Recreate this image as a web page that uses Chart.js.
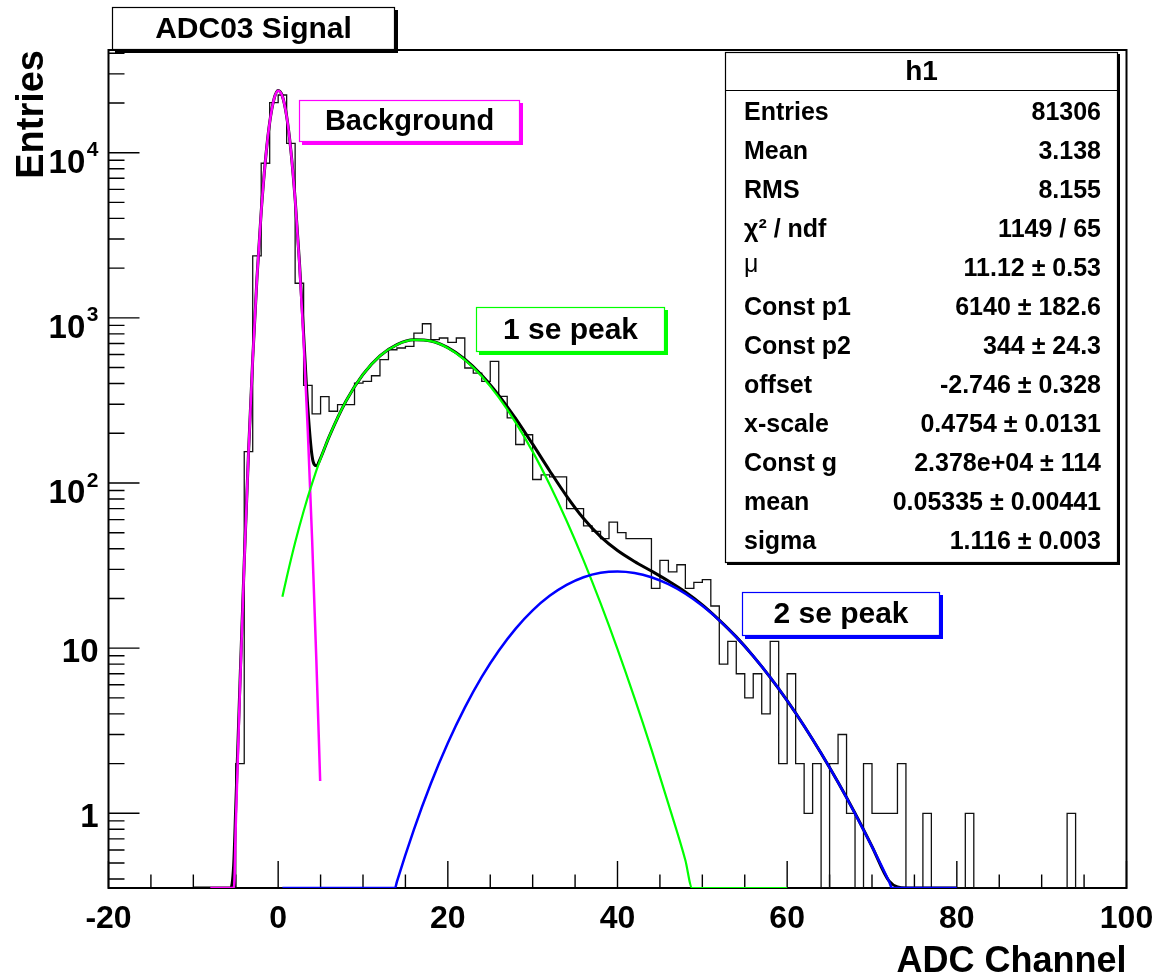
<!DOCTYPE html>
<html>
<head>
<meta charset="utf-8">
<script src="https://cdn.jsdelivr.net/npm/chart.js@4.4.0/dist/chart.umd.min.js"></script>
<style>
  html, body { margin: 0; padding: 0; background: #fff; }
</style>
</head>
<body>
<canvas id="myChart" width="1161" height="976"></canvas>
<script>
//Histogram: bins are 1 channel wide, first bin starts at HIST_START
const HIST_START = -6;
const histCounts = [
  0, 2, 155, 2375, 8630, 20100, 22350, 11400, 1620, 390,
  262, 333, 272, 298, 298, 403, 412, 446, 558, 641,
  657, 672, 809, 921, 738, 755, 710, 755, 497, 463,
  412, 545, 335, 248, 171, 196, 105, 112, 109, 109,
  70, 70, 55, 51, 46, 58, 50, 46, 46, 46,
  23, 34, 29, 32, 23, 25, 26, 18, 8, 11,
  7, 5, 7, 4, 11, 2, 7, 2, 1, 2,
  0, 2, 3, 1, 0, 2, 1, 1, 1, 2,
  0, 0, 1, 0, 0, 0, 0, 1, 0, 0,
  0, 0, 0, 0, 0, 0, 0, 0, 0, 1,
  0
];

//Fit curves (0 means under the axis, ROOT draws it on the frame bottom)
const totalX = [-10, -5.6, -5.25, -5, -4.5, -4, -3.5, -3, -2.5, -2, -1.5, -1, -0.5, 0, 0.5, 1, 1.5, 2, 2.5, 3, 3.5, 4, 4.5, 5,
  6, 8, 10, 12, 14, 16, 18, 20, 22, 24, 26, 28, 30, 32, 34, 36, 38, 40, 42, 44, 46, 48, 50,
  52, 54, 56, 58, 60, 62, 64, 66, 68, 70, 72, 74, 80];
const totalY = [0, 0, 0.48, 1.09, 6.2, 33.2, 150.7, 565, 1738, 4379, 9033, 15238, 21039, 23768, 21970, 16622, 10298, 5238, 2205, 796, 284, 145.3, 127.2, 141.6,
  190.2, 313.4, 454.4, 588.4, 688.7, 735.9, 723.7, 660, 561.7, 449, 339.5, 245.3, 171.8, 118.7, 83.3, 60.9, 47.3, 39.0, 33.5, 29.3, 25.5, 21.9, 18.3,
  14.8, 11.7, 8.95, 6.66, 4.81, 3.38, 2.31, 1.54, 1.0, 0.63, 0.39, 0, 0];

const bgX = [-8, -5.21, -5, -4.5, -4, -3.5, -3, -2.5, -2, -1.5, -1, -0.5, 0, 0.5, 1, 1.5, 2, 2.5, 3, 3.5, 4, 4.5, 4.95];
const bgY = [0, 0, 0.84, 5.77, 32.5, 149.5, 563, 1735, 4375, 9027, 15230, 21028, 23753, 21950, 16595, 10264, 5194, 2151, 728.6, 201.9, 45.8, 8.49, 1.57];

const pe1X = [0.5, 1, 2, 3, 4, 5, 6, 8, 10, 12, 14, 16, 18, 20, 22, 24, 26, 28, 30, 32, 34, 36, 38, 40, 42, 44, 46, 48, 48.8, 60];
const pe1Y = [20.5, 26.7, 43.6, 67.5, 99.5, 140.3, 190.2, 313.4, 454.4, 588.4, 688.3, 735.1, 722.2, 657.3, 557.3, 442.3, 329.8, 232.2, 154.9, 98.0, 59.1, 34.0, 18.72, 9.87, 5.0, 2.44, 1.14, 0.52, 0, 0];

const pe2X = [0.5, 13.78, 14, 16, 18, 20, 22, 24, 26, 28, 30, 32, 34, 36, 38, 40, 42, 44, 46, 48, 50, 52, 54, 56, 58, 60, 62, 64, 66, 68, 70, 72, 72.37, 80];
const pe2Y = [0, 0, 0.386, 0.797, 1.515, 2.664, 4.365, 6.70, 9.65, 13.14, 16.94, 20.73, 24.15, 26.87, 28.58, 29.14, 28.54, 26.88, 24.38, 21.34, 18.04, 14.74, 11.67, 8.95, 6.66, 4.81, 3.38, 2.311, 1.537, 0.996, 0.629, 0.388, 0, 0];

//Axis ticks (y labels are base + exponent, like ROOT's 10^{n})
const xTicks = [-20, 0, 20, 40, 60, 80, 100];
const yTicks = [1, 10, 100, 1000, 10000];
const yTickBase = ['1', '10', '10', '10', '10'];
const yTickExp = ['', '', '2', '3', '4'];

//Stats box
const statTitle = 'h1';
const statLabels = ['Entries', 'Mean', 'RMS', 'χ² / ndf', 'μ', 'Const p1', 'Const p2', 'offset', 'x-scale', 'Const g', 'mean', 'sigma'];
const statValues = ['81306', '3.138', '8.155', '1149 / 65', '11.12 ± 0.53', '6140 ± 182.6', '344 ± 24.3', '-2.746 ± 0.328',
  '0.4754 ± 0.0131', '2.378e+04 ± 114', '0.05335 ± 0.00441', '1.116 ± 0.003'];

const X_MIN = -20, X_MAX = 100;
const Y_MIN = 0.353, Y_MAX = 41860;
const FONT = '"Liberation Sans", Arial, Helvetica, sans-serif';

const clampY = v => Math.max(v, Y_MIN);
const toPoints = (xs, ys) => xs.map((x, i) => ({x: x, y: clampY(ys[i])}));

const histPoints = histCounts.map((c, i) => ({x: HIST_START + i, y: clampY(c)}));
histPoints.push({x: HIST_START + histCounts.length, y: Y_MIN});

//A ROOT style pave: white box, thin border, solid shadow down-right
const drawPave = function(ctx, x, y, w, h, color, shadow, text, size) {
  ctx.save();
  ctx.fillStyle = color;
  ctx.fillRect(x + shadow, y + shadow, w, h);
  ctx.fillStyle = '#fff';
  ctx.fillRect(x, y, w, h);
  ctx.strokeStyle = color;
  ctx.lineWidth = 1.2;
  ctx.strokeRect(x + 0.5, y + 0.5, w - 1, h - 1);
  if (text) {
    ctx.fillStyle = '#000';
    ctx.font = 'bold ' + size + 'px ' + FONT;
    ctx.textAlign = 'center';
    ctx.textBaseline = 'middle';
    ctx.fillText(text, x + w / 2, y + h / 2 + 1);
  }
  ctx.restore();
};

const rootFrame = {
  id: 'rootFrame',
  beforeDatasetsDraw(chart) {
    const ctx = chart.ctx;
    const {left, right, top, bottom} = chart.chartArea;
    const xs = chart.scales.x, ys = chart.scales.y;
    ctx.save();
    ctx.strokeStyle = '#000';
    ctx.lineWidth = 2;
    ctx.strokeRect(left, top, right - left, bottom - top);
    ctx.lineWidth = 1.4;
    ctx.beginPath();
    //x ticks, drawn inside the frame
    for (let v = X_MIN; v <= X_MAX; v += 5) {
      const px = xs.getPixelForValue(v);
      const len = v % 20 === 0 ? 27 : 13.5;
      ctx.moveTo(px, bottom);
      ctx.lineTo(px, bottom - len);
    }
    //y ticks, decades long, 2..9 short
    for (let d = -1; d <= 4; d++) {
      for (let m = 1; m <= 9; m++) {
        const v = m * Math.pow(10, d);
        if (v < Y_MIN || v > Y_MAX) continue;
        const py = ys.getPixelForValue(v);
        const len = m === 1 ? 31 : 16;
        ctx.moveTo(left, py);
        ctx.lineTo(left + len, py);
      }
    }
    ctx.stroke();

    //y labels with raised exponent
    ctx.fillStyle = '#000';
    ctx.textAlign = 'right';
    ctx.textBaseline = 'alphabetic';
    const lx = left - 10;
    for (let i = 0; i < yTicks.length; i++) {
      const py = ys.getPixelForValue(yTicks[i]);
      if (yTickExp[i]) {
        ctx.font = 'bold 21px ' + FONT;
        const ew = ctx.measureText(yTickExp[i]).width;
        ctx.fillText(yTickExp[i], lx, py + 3.5);
        ctx.font = 'bold 33px ' + FONT;
        ctx.fillText(yTickBase[i], lx - ew - 1.5, py + 20);
      } else {
        ctx.font = 'bold 33px ' + FONT;
        ctx.fillText(yTickBase[i], lx, py + 13.5);
      }
    }
    ctx.restore();
  },
  afterDatasetsDraw(chart) {
    const ctx = chart.ctx;
    //title
    drawPave(ctx, 112, 7, 283, 43, '#000', 3, 'ADC03 Signal', 30);
    //labels for the fit parts
    drawPave(ctx, 299, 100, 221, 42, '#ff00ff', 3, 'Background', 29);
    drawPave(ctx, 476, 307, 189, 45, '#00ff00', 3, '1 se peak', 30);
    drawPave(ctx, 742, 592, 198, 44, '#0000ff', 3, '2 se peak', 30);
    //stats box
    const bx = 725, by = 52, bw = 393, bh = 511;
    drawPave(ctx, bx, by, bw, bh, '#000', 2, null, 0);
    ctx.save();
    ctx.fillStyle = '#000';
    ctx.strokeStyle = '#000';
    ctx.lineWidth = 1.2;
    ctx.beginPath();
    ctx.moveTo(bx, 90.5);
    ctx.lineTo(bx + bw, 90.5);
    ctx.stroke();
    ctx.textBaseline = 'middle';
    ctx.textAlign = 'center';
    ctx.font = 'bold 28px ' + FONT;
    ctx.fillText(statTitle, bx + bw / 2, 72);
    for (let i = 0; i < statLabels.length; i++) {
      const y = 113 + 39 * i;
      ctx.textAlign = 'left';
      if (statLabels[i] === 'μ') {
        ctx.font = '25px ' + FONT;
        ctx.fillText(statLabels[i], 744, y - 4);
      } else {
        ctx.font = 'bold 25px ' + FONT;
        ctx.fillText(statLabels[i], 744, y);
      }
      ctx.font = 'bold 25px ' + FONT;
      ctx.textAlign = 'right';
      ctx.fillText(statValues[i], 1101, y);
    }
    ctx.restore();
  }
};

const tickFont = {family: FONT, size: 32, weight: 'bold'};

const ctx = document.getElementById('myChart');
const myChart = new Chart(ctx, {
  type: 'line',
  data: {
    datasets: [
      {label: 'h1', data: histPoints, stepped: true, borderColor: '#111', borderWidth: 1.3, pointRadius: 0, fill: false, order: 5},
      {label: 'total', data: toPoints(totalX, totalY), borderColor: '#000', borderWidth: 3, pointRadius: 0, fill: false, cubicInterpolationMode: 'monotone', order: 4},
      {label: 'Background', data: toPoints(bgX, bgY), borderColor: '#ff00ff', borderWidth: 2.5, pointRadius: 0, fill: false, cubicInterpolationMode: 'monotone', order: 3},
      {label: '1 se peak', data: toPoints(pe1X, pe1Y), borderColor: '#00ff00', borderWidth: 2.2, pointRadius: 0, fill: false, cubicInterpolationMode: 'monotone', order: 2},
      {label: '2 se peak', data: toPoints(pe2X, pe2Y), borderColor: '#0000ff', borderWidth: 2.5, pointRadius: 0, fill: false, cubicInterpolationMode: 'monotone', order: 1}
    ]
  },
  options: {
    responsive: false,
    animation: false,
    devicePixelRatio: 1,
    layout: {padding: {top: 50, right: 34.5, left: 0, bottom: 0}},
    plugins: {legend: {display: false}, tooltip: {enabled: false}},
    scales: {
      x: {
        type: 'linear', position: 'bottom', min: X_MIN, max: X_MAX,
        grid: {display: false}, border: {display: false},
        afterBuildTicks: s => { s.ticks = xTicks.map(v => ({value: v})); },
        afterFit: s => { s.height = 88; },
        ticks: {autoSkip: false, maxRotation: 0, padding: 4, color: '#000', font: tickFont, callback: v => String(v)},
        title: {display: true, text: 'ADC Channel', align: 'end', color: '#000',
          font: {family: FONT, size: 36, weight: 'bold', lineHeight: 0.8}, padding: {top: 0, bottom: 0}}
      },
      y: {
        type: 'logarithmic', min: Y_MIN, max: Y_MAX,
        grid: {display: false}, border: {display: false},
        afterBuildTicks: s => { s.ticks = yTicks.map(v => ({value: v})); },
        afterFit: s => { s.width = 108.5; },
        ticks: {display: false},
        title: {display: true, text: 'Entries', align: 'end', color: '#000',
          font: {family: FONT, size: 38, weight: 'bold', lineHeight: 0.8}, padding: {top: 17, bottom: 0}}
      }
    }
  },
  plugins: [rootFrame]
});
</script>
</body>
</html>
